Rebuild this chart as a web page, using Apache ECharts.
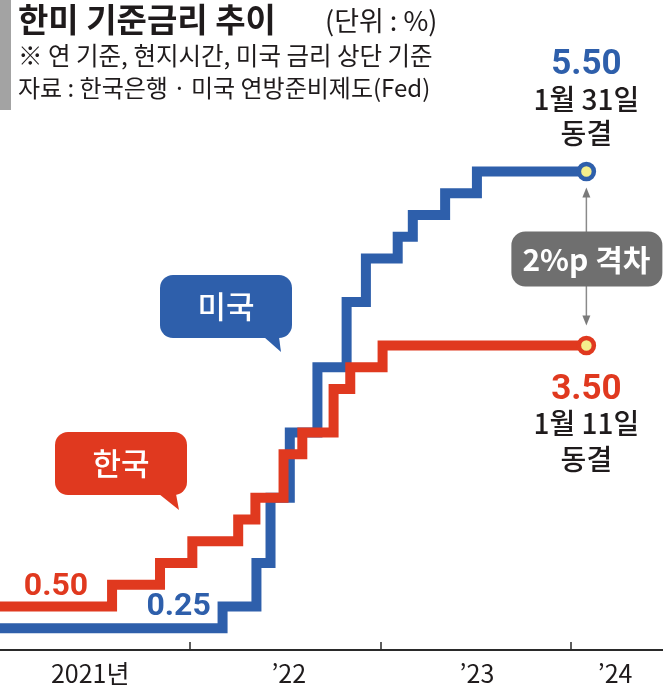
<!DOCTYPE html>
<html><head><meta charset="utf-8">
<script src="https://cdn.jsdelivr.net/npm/echarts@6/dist/echarts.min.js"></script>
<style>html,body{margin:0;padding:0;background:#fff}#c{width:663px;height:689px}</style>
</head><body><div id="c"></div>
<script>
// ---- data ----
const krDates = ['2021-01-01','2021-08-04','2021-11-04','2022-01-05','2022-04-03','2022-05-06','2022-06-29','2022-08-04','2022-10-03','2022-11-04','2023-01-05','2024-01-31'];
const krRates = [0.50,0.75,1.00,1.25,1.50,1.75,2.25,2.50,3.00,3.25,3.50,3.50];
const usDates = ['2021-01-01','2022-03-04','2022-05-08','2022-06-04','2022-07-11','2022-09-02','2022-10-28','2022-12-04','2023-02-03','2023-03-04','2023-05-05','2023-07-05','2024-01-31'];
const usRates = [0.25,0.50,1.00,1.75,2.50,3.25,4.00,4.50,4.75,5.00,5.25,5.50,5.50];
const xTickDates = ['2022-01-01','2023-01-01','2024-01-01'];
const xLabelDates = ['2021-06-23','2022-07-09','2023-07-05','2024-03-26'];
const xLabels = ['2021년','’22','’23','’24'];
const axisRange = ['2021-01-01','2024-06-26'];
const usNote = ['1월 31일','동결'];
const krNote = ['1월 11일','동결'];
const gapText = '2%p 격차';
const titleText = '한미 기준금리 추이';
const unitText = '(단위 : %)';
const noteLines = ['※ 연 기준, 현지시간, 미국 금리 상단 기준','자료 : 한국은행\u2009·\u2009미국 연방준비제도(Fed)'];
const seriesNames = ['미국','한국'];

// ---- styles ----
const BLUE = '#2e5fab', RED = '#e0391f', YEL = '#f4ee8c', INK = '#1f1b1c', GRAY = '#6f6f6f';
const CJK = '"Noto Sans CJK KR","Noto Sans",sans-serif';
const NUM = 'Roboto,"Liberation Sans",sans-serif';

const ts = s => new Date(s + 'T00:00:00').getTime();
const usData = usDates.map((d,i)=>[ts(d), usRates[i]]);
const krData = krDates.map((d,i)=>[ts(d), krRates[i]]);
const usLast = usData[usData.length-1], krLast = krData[krData.length-1];
const labelTs = xLabelDates.map(ts);

const richFor = (color, lastLH) => ({
  a:{fontSize:35,fontWeight:'bold',color:color,fontFamily:NUM,lineHeight:35,align:'center'},
  b:{fontSize:28,fontWeight:500,color:INK,fontFamily:CJK,lineHeight:33,align:'center'},
  c:{fontSize:28,fontWeight:500,color:INK,fontFamily:CJK,lineHeight:lastLH,align:'center'}
});

const chart = echarts.init(document.getElementById('c'), null, {renderer:'canvas'});
chart.setOption({
  animation:false,
  backgroundColor:'#fff',
  grid:{left:0,right:0,top:41,bottom:39,containLabel:false},
  xAxis:{
    type:'value', min:ts(axisRange[0]), max:ts(axisRange[1]), scale:true,
    axisLine:{show:true,lineStyle:{color:'#2a2a2a',width:2}},
    axisTick:{show:true,inside:true,length:8,lineStyle:{color:'#2a2a2a',width:1.5},customValues:xTickDates.map(ts)},
    axisLabel:{show:true,customValues:labelTs,margin:11,fontSize:25,color:INK,fontFamily:CJK,
      formatter:(v)=>{let k=0,best=Infinity;labelTs.forEach((t,i)=>{const d=Math.abs(t-v);if(d<best){best=d;k=i;}});return xLabels[k];}},
    splitLine:{show:false}
  },
  yAxis:{type:'value',min:0,max:7,show:false,splitLine:{show:false}},
  series:[
    {type:'line',name:seriesNames[0],step:'end',data:usData,showSymbol:false,symbol:'none',z:2,
      lineStyle:{color:BLUE,width:10,join:'miter',cap:'butt',miterLimit:10}},
    {type:'line',name:seriesNames[1],step:'end',data:krData,showSymbol:false,symbol:'none',z:3,
      lineStyle:{color:RED,width:10,join:'miter',cap:'butt',miterLimit:10}},
    {type:'scatter',data:[usLast],symbolSize:15,z:6,
      itemStyle:{color:YEL,borderColor:BLUE,borderWidth:4.5,opacity:1},
      label:{show:true,position:'top',distance:10,
        formatter:'{a|'+usLast[1].toFixed(2)+'}\n{b|'+usNote[0]+'}\n{c|'+usNote[1]+'}',
        rich:richFor(BLUE,36)}},
    {type:'scatter',data:[krLast],symbolSize:15,z:6,
      itemStyle:{color:YEL,borderColor:RED,borderWidth:4.5,opacity:1},
      label:{show:true,position:'bottom',distance:17,
        formatter:'{a|'+krLast[1].toFixed(2)+'}\n{b|'+krNote[0]+'}\n{c|'+krNote[1]+'}',
        rich:richFor(RED,38)}}
  ]
});

const px = p => chart.convertToPixel({xAxisIndex:0,yAxisIndex:0}, p);
const pU = px(usLast), pK = px(krLast);
const pKr0 = px(krData[0]), pUs1 = px(usData[1]);
const ax = pU[0];
const yTop = pU[1]+16, yBot = pK[1]-20, yMid = (pU[1]+pK[1])/2;

function bubble(x,y,w,h,color,text,tail){
  return {type:'group',children:[
    {type:'rect',shape:{x:x,y:y,width:w,height:h,r:13},style:{fill:color}},
    {type:'polygon',shape:{points:tail},style:{fill:color}},
    {type:'text',x:x+w/2,y:y+h/2,style:{text:text,fill:'#fff',font:'500 31px '+CJK,align:'center',verticalAlign:'middle'}}
  ]};
}

chart.setOption({graphic:[
  {type:'rect',shape:{x:0,y:0,width:11,height:110},style:{fill:'#a3a3a3'}},
  {type:'text',x:18,y:19,style:{text:titleText,fill:INK,font:'bold 33px '+CJK,verticalAlign:'middle'}},
  {type:'text',x:325,y:21,style:{text:unitText,fill:INK,font:'27px '+CJK,verticalAlign:'middle'}},
  {type:'text',x:18,y:56,style:{text:noteLines[0],fill:INK,font:'24.5px '+CJK,verticalAlign:'middle'}},
  {type:'text',x:18,y:88,style:{text:noteLines[1],fill:INK,font:'24px '+CJK,verticalAlign:'middle'}},
  {type:'text',x:pKr0[0]+56,y:pKr0[1]-20,style:{text:krRates[0].toFixed(2),fill:RED,font:'bold 32px '+NUM,align:'center',verticalAlign:'middle'}},
  {type:'text',x:pUs1[0]-44,y:pUs1[1]+0,style:{text:usRates[0].toFixed(2),fill:BLUE,font:'bold 32px '+NUM,align:'center',verticalAlign:'middle'}},
  {type:'line',shape:{x1:ax,y1:yTop+6,x2:ax,y2:yBot-6},style:{stroke:'#8a8a8a',lineWidth:1.5}},
  {type:'polygon',shape:{points:[[ax,yTop],[ax-4,yTop+10],[ax+4,yTop+10]]},style:{fill:'#7a7a7a'}},
  {type:'polygon',shape:{points:[[ax,yBot],[ax-4,yBot-10],[ax+4,yBot-10]]},style:{fill:'#7a7a7a'}},
  {type:'rect',shape:{x:ax-75,y:yMid-27,width:151,height:55,r:14},style:{fill:GRAY}},
  {type:'text',x:ax,y:yMid+1,style:{text:gapText,fill:'#fff',font:'bold 30px '+CJK,align:'center',verticalAlign:'middle'}},
  bubble(160,275,132,63,BLUE,seriesNames[0],[[264,337],[281,352],[279,337]]),
  bubble(55,432,132,63,RED,seriesNames[1],[[159,494],[179,510],[176,494]])
]});
</script></body></html>
